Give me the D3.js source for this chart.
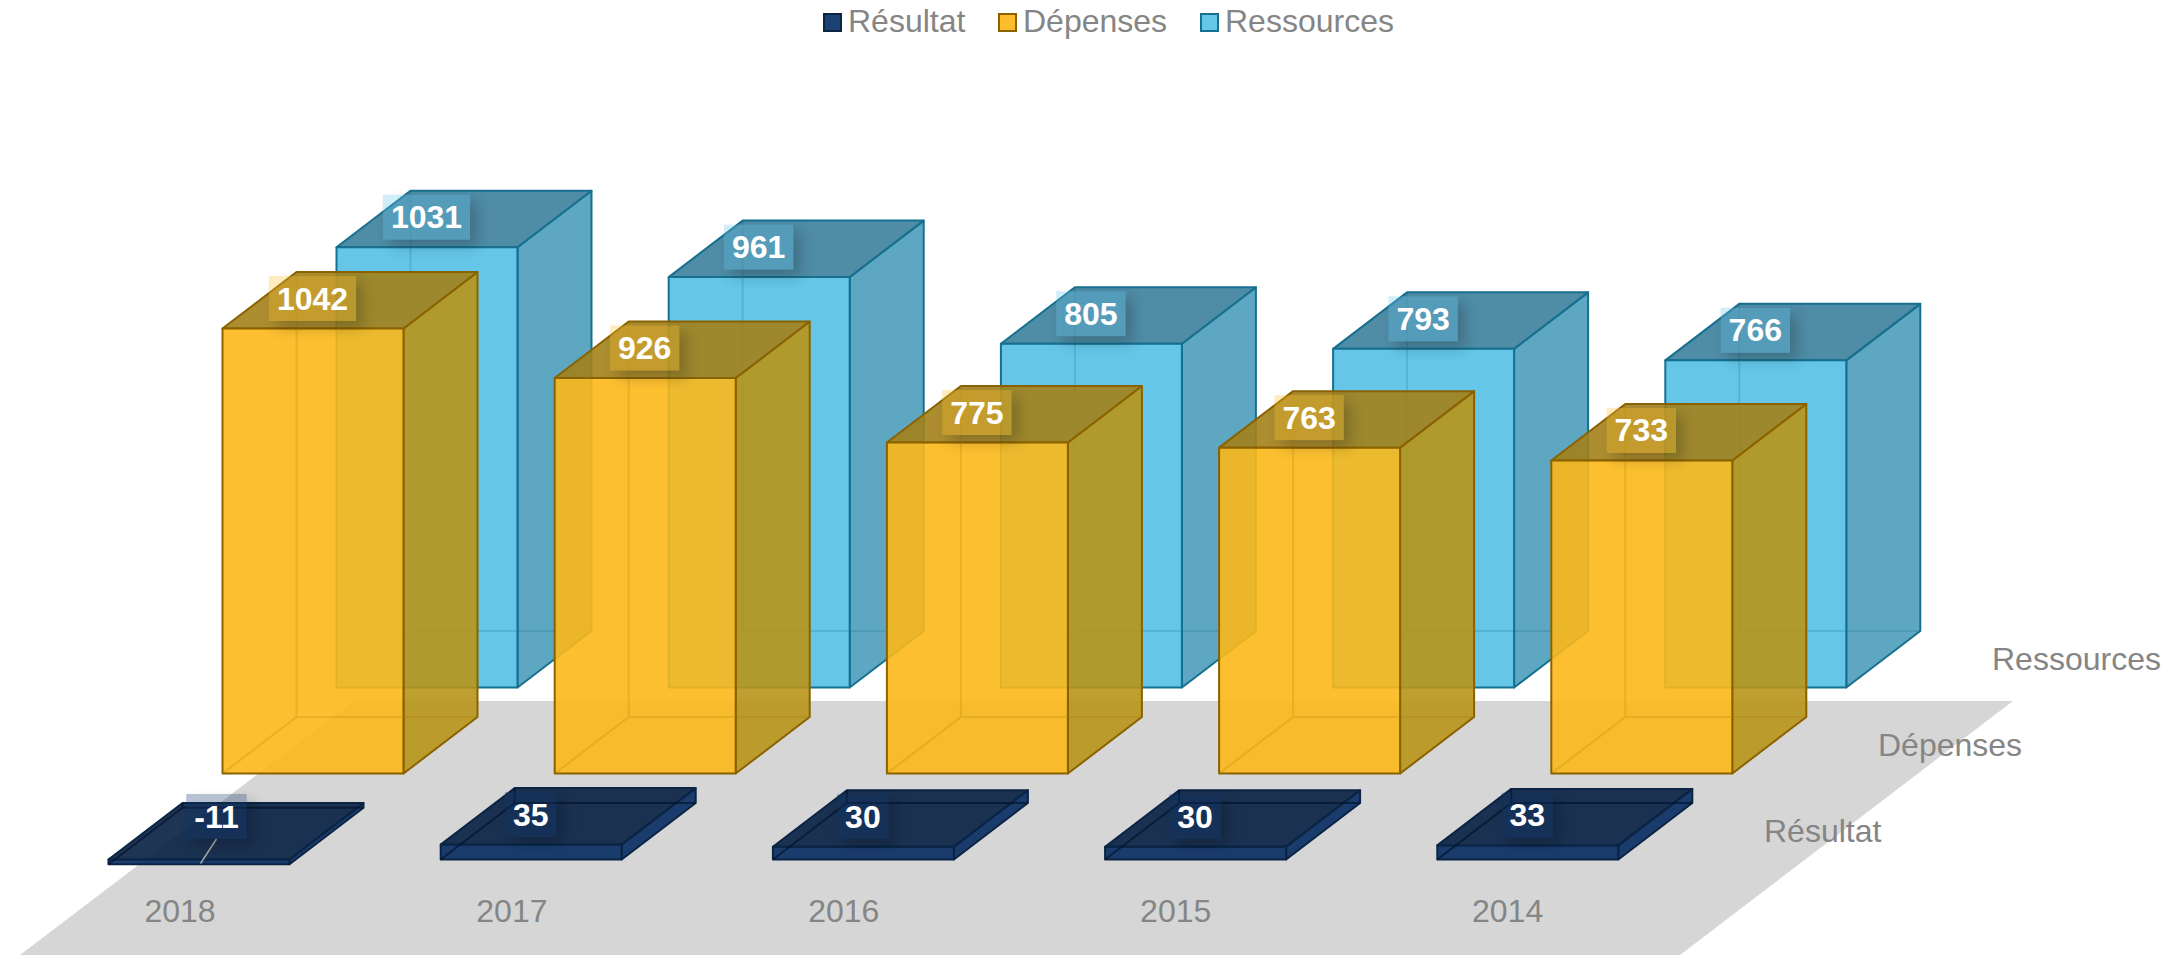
<!DOCTYPE html>
<html><head><meta charset="utf-8">
<script src="https://cdn.jsdelivr.net/npm/d3@7"></script>
<style>html,body{margin:0;padding:0;background:#fff;overflow:hidden}svg{display:block;font-family:"Liberation Sans",Arial,sans-serif}</style>
</head><body><svg id="c" width="2182" height="955"></svg>
<script>
const years = ["2018","2017","2016","2015","2014"];
const seriesNames = ["Résultat","Dépenses","Ressources"];
const resultat = [-11,35,30,30,33];
const depenses = [1042,926,775,763,733];
const ressources = [1031,961,805,793,766];

const valuesOf = {"Résultat":resultat,"Dépenses":depenses,"Ressources":ressources};
const look = {
  "Résultat":{front:"#052b62",side:"#052b62",top:"#051f42",edge:"#0b2444",inner:"#03142c",innerOp:.7,legend:"#1c4274",label:"#0e3268"},
  "Dépenses":{front:"#fbb81a",side:"#b8951a",top:"#a3811a",edge:"#8a6200",inner:"#a87a00",innerOp:.22,legend:"#fdbd2a",label:"#fcc02a"},
  "Ressources":{front:"#54c0e5",side:"#4b9dbb",top:"#3c809c",edge:"#17708f",inner:"#17708f",innerOp:.22,legend:"#64c6e8",label:"#62c5e8"}
};
const W=181, DX=74, DY=56.5;
const svg=d3.select("#c");
const xLeft=d3.scalePoint().domain(years).range([108.5,108.5+4*332.2]);
const xTick=d3.scalePoint().domain(years).range([179.5,179.5+4*331.9]);
const rowX=d3.scalePoint().domain(seriesNames).range([0,228]);
const rowY=d3.scalePoint().domain(seriesNames).range([859.5,687.5]);
const h=d3.scaleLinear().domain([0,1042]).range([0,445]);
const line=d3.line();

const defs=svg.append("defs");
const f=defs.append("filter").attr("id","sh").attr("x","-40%").attr("y","-40%").attr("width","180%").attr("height","180%");
f.append("feGaussianBlur").attr("in","SourceAlpha").attr("stdDeviation",7).attr("result","b");
f.append("feOffset").attr("in","b").attr("dx",7).attr("dy",7).attr("result","o");
f.append("feComposite").attr("in","o").attr("in2","SourceAlpha").attr("operator","out");

svg.append("path").attr("d",line([[354,701],[2013,701],[1680,955],[20,955]])+"Z").attr("fill","#d6d6d6");

seriesNames.slice().reverse().forEach(s=>{
  const st=look[s], g=svg.append("g");
  valuesOf[s].forEach((v,i)=>{
    const x=xLeft(years[i])+rowX(s), y0=rowY(s);
    const yTop=v>=0?y0-h(v):y0, yBot=v>=0?y0:y0+h(-v);
    const b=g.append("g").attr("stroke",st.edge).attr("stroke-width",2).attr("stroke-linejoin","round");
    b.append("path").attr("fill",st.side).attr("fill-opacity",.9)
      .attr("d",line([[x+W,yTop],[x+W+DX,yTop-DY],[x+W+DX,yBot-DY],[x+W,yBot]])+"Z");
    b.append("path").attr("fill",st.top).attr("fill-opacity",.9)
      .attr("d",line([[x,yTop],[x+DX,yTop-DY],[x+W+DX,yTop-DY],[x+W,yTop]])+"Z");
    b.append("path").attr("fill",st.front).attr("fill-opacity",.9)
      .attr("d",line([[x,yTop],[x+W,yTop],[x+W,yBot],[x,yBot]])+"Z");
    b.append("path").attr("fill","none").attr("stroke",st.inner).attr("stroke-opacity",st.innerOp).attr("d",
      line([[x,yBot],[x+DX,yBot-DY],[x+W+DX,yBot-DY]])+line([[x+DX,yBot-DY],[x+DX,yTop-DY]]));
  });
});

seriesNames.slice().reverse().forEach(s=>{
  const st=look[s], g=svg.append("g");
  valuesOf[s].forEach((v,i)=>{
    const x=xLeft(years[i])+rowX(s)+W/2, y0=rowY(s);
    const neg=v<0;
    const cx=x+(neg?18:0)-0.5, cy=(neg?y0:y0-h(v))-(neg?43:30);
    const t=g.append("text").attr("x",cx).attr("y",cy+11).attr("text-anchor","middle")
      .attr("font-size",32).attr("font-weight",700).attr("fill","#fff").text(String(v));
    const w=t.node().getComputedTextLength()+16, rh=45;
    const before=function(){return t.node();};
    if(neg){
      g.insert("line",before).attr("x1",cx).attr("y1",cy+rh/2).attr("x2",x+1.5).attr("y2",y0+4)
        .attr("stroke","#a6a6a6").attr("stroke-width",1.5);
    }
    g.insert("rect",before).attr("x",cx-w/2).attr("y",cy-rh/2).attr("width",w).attr("height",rh)
      .attr("fill","#000").attr("opacity",.2).attr("filter","url(#sh)");
    g.insert("rect",before).attr("x",cx-w/2).attr("y",cy-rh/2).attr("width",w).attr("height",rh)
      .attr("fill",st.label).attr("fill-opacity",.3);
  });
});

const axis=svg.append("g").attr("transform",`translate(0,890)`)
  .call(d3.axisBottom(xTick).tickSize(0).tickPadding(0));
axis.select(".domain").remove();
axis.selectAll("text").attr("font-size",32).attr("font-family","Liberation Sans").attr("fill","#858585").attr("dy","32").attr("y",0);

seriesNames.forEach(s=>{
  svg.append("text").attr("x",1764+rowX(s)).attr("y",rowY(s)-18).attr("font-size",32).attr("fill","#858585").text(s);
});

const legendX=[823,998,1200];
seriesNames.forEach((s,i)=>{
  const g=svg.append("g").attr("transform",`translate(${legendX[i]},13)`);
  g.append("rect").attr("x",1).attr("y",1).attr("width",17).attr("height",17)
    .attr("fill",look[s].legend).attr("stroke",look[s].edge).attr("stroke-width",2);
  g.append("text").attr("x",25).attr("y",19).attr("font-size",32).attr("fill","#858585").text(s);
});
</script></body></html>
